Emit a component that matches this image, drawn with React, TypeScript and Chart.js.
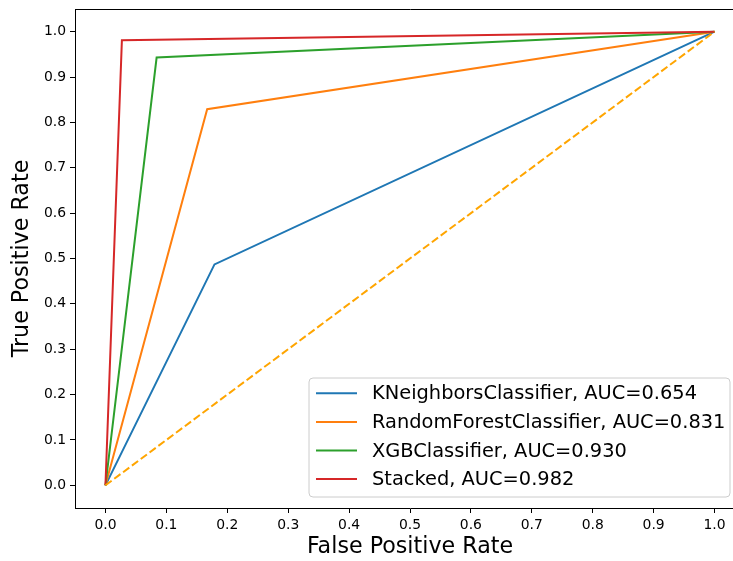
import React, { useEffect, useRef } from "react";
import { Chart, registerables } from "chart.js";

Chart.register(...registerables);

const seriesLabels = [
  "KNeighborsClassifier, AUC=0.654",
  "RandomForestClassifier, AUC=0.831",
  "XGBClassifier, AUC=0.930",
  "Stacked, AUC=0.982",
];
const seriesColors = ["#1f77b4", "#ff7f0e", "#2ca02c", "#d62728"];
const knnFpr = [0, 0.179, 1];
const knnTpr = [0, 0.487, 1];
const rfFpr = [0, 0.167, 1];
const rfTpr = [0, 0.829, 1];
const xgbFpr = [0, 0.084, 1];
const xgbTpr = [0, 0.943, 1];
const stackFpr = [0, 0.027, 1];
const stackTpr = [0, 0.981, 1];
const chanceFpr = [0, 1];
const chanceTpr = [0, 1];
const tickValues = [0, 0.1, 0.2, 0.3, 0.4, 0.5, 0.6, 0.7, 0.8, 0.9, 1.0];

const FONT = "'DejaVu Sans', sans-serif";

const toPoints = (xs: number[], ys: number[]) => xs.map((x, i) => ({ x, y: ys[i] }));

const framePlugin = {
  id: "frame",
  afterDatasetsDraw(chart: any) {
    const { ctx, chartArea } = chart;
    ctx.save();
    ctx.strokeStyle = "#000";
    ctx.lineWidth = 1;
    ctx.beginPath();
    ctx.moveTo(Math.round(chartArea.left) + 0.5, Math.round(chartArea.bottom) + 0.5);
    ctx.lineTo(Math.round(chartArea.left) + 0.5, Math.round(chartArea.top) + 0.5);
    ctx.lineTo(Math.round(chartArea.right) + 0.5, Math.round(chartArea.top) + 0.5);
    ctx.lineTo(Math.round(chartArea.right) + 0.5, Math.round(chartArea.bottom) + 0.5);
    ctx.stroke();
    ctx.restore();
  },
};

const legendPlugin = {
  id: "customLegend",
  afterDraw(chart: any) {
    const { ctx } = chart;
    const x0 = 309, y0 = 378, w = 421, h = 119, r = 4;
    ctx.save();
    ctx.beginPath();
    ctx.moveTo(x0 + r, y0);
    ctx.lineTo(x0 + w - r, y0);
    ctx.arcTo(x0 + w, y0, x0 + w, y0 + r, r);
    ctx.lineTo(x0 + w, y0 + h - r);
    ctx.arcTo(x0 + w, y0 + h, x0 + w - r, y0 + h, r);
    ctx.lineTo(x0 + r, y0 + h);
    ctx.arcTo(x0, y0 + h, x0, y0 + h - r, r);
    ctx.lineTo(x0, y0 + r);
    ctx.arcTo(x0, y0, x0 + r, y0, r);
    ctx.closePath();
    ctx.fillStyle = "rgba(255,255,255,0.8)";
    ctx.fill();
    ctx.strokeStyle = "#cccccc";
    ctx.lineWidth = 1;
    ctx.stroke();
    ctx.font = `19.4px ${FONT}`;
    ctx.textBaseline = "middle";
    ctx.textAlign = "left";
    seriesLabels.forEach((label, i) => {
      const yy = 393.3 + i * 28.6;
      ctx.strokeStyle = seriesColors[i];
      ctx.lineWidth = 2;
      ctx.beginPath();
      ctx.moveTo(316, yy);
      ctx.lineTo(357, yy);
      ctx.stroke();
      ctx.fillStyle = "#000";
      ctx.fillText(label, 372, yy + 1);
    });
    ctx.restore();
  },
};

export default function App() {
  const ref = useRef<HTMLCanvasElement | null>(null);
  useEffect(() => {
    if (!ref.current) return;
    const series = [
      [knnFpr, knnTpr],
      [rfFpr, rfTpr],
      [xgbFpr, xgbTpr],
      [stackFpr, stackTpr],
    ];
    const datasets: any[] = series.map(([xs, ys], i) => ({
      label: seriesLabels[i],
      data: toPoints(xs, ys),
      borderColor: seriesColors[i],
      backgroundColor: seriesColors[i],
      borderWidth: 2,
      pointRadius: 0,
      showLine: true,
      order: 10 - i,
    }));
    datasets.push({
      label: "chance",
      data: toPoints(chanceFpr, chanceTpr),
      borderColor: "#FFA500",
      borderWidth: 2,
      borderDash: [7.7, 3.3],
      pointRadius: 0,
      showLine: true,
      order: 1,
    });
    const axisCommon = {
      type: "linear" as const,
      min: -0.05,
      max: 1.05,
      afterBuildTicks: (scale: any) => {
        scale.ticks = tickValues.map((v) => ({ value: v }));
      },
      grid: {
        display: true,
        drawOnChartArea: false,
        drawTicks: true,
        tickLength: 5,
        color: "#000",
        lineWidth: 1,
      },
      border: { display: true, color: "#000", width: 1 },
    };
    const chart = new Chart(ref.current, {
      type: "scatter",
      data: { datasets },
      plugins: [framePlugin, legendPlugin],
      options: {
        responsive: false,
        animation: false,
        devicePixelRatio: 1,
        layout: { padding: { left: 0, right: 5, top: 9, bottom: 0 } },
        plugins: { legend: { display: false }, tooltip: { enabled: false } },
        scales: {
          x: {
            ...axisCommon,
            position: "bottom",
            afterFit: (scale: any) => {
              scale.height = 53;
              scale.paddingLeft = 0;
              scale.paddingRight = 0;
            },
            ticks: {
              color: "#000",
              font: { family: FONT, size: 13.9 },
              padding: 4,
              maxRotation: 0,
              autoSkip: false,
              callback: (v: any) => Number(v).toFixed(1),
            },
            title: {
              display: true,
              text: "False Positive Rate",
              color: "#000",
              font: { family: FONT, size: 22.2 },
              padding: { top: 2, bottom: 0 },
            },
          },
          y: {
            ...axisCommon,
            position: "left",
            afterFit: (scale: any) => {
              scale.width = 75;
              scale.paddingTop = 0;
              scale.paddingBottom = 0;
            },
            ticks: {
              color: "#000",
              font: { family: FONT, size: 13.9 },
              padding: 4,
              autoSkip: false,
              callback: (v: any) => Number(v).toFixed(1),
            },
            title: {
              display: true,
              text: "True Positive Rate",
              color: "#000",
              font: { family: FONT, size: 22.2 },
              padding: { top: 9, bottom: 0 },
            },
          },
        },
      },
    } as any);
    return () => chart.destroy();
  }, []);
  return (
    <div
      style={{
        position: "fixed",
        left: 0,
        top: 0,
        width: 733,
        height: 561,
        overflow: "hidden",
        background: "#fff",
      }}
    >
      <canvas ref={ref} width={750} height={561} style={{ width: 750, height: 561, display: "block" }} />
    </div>
  );
}
